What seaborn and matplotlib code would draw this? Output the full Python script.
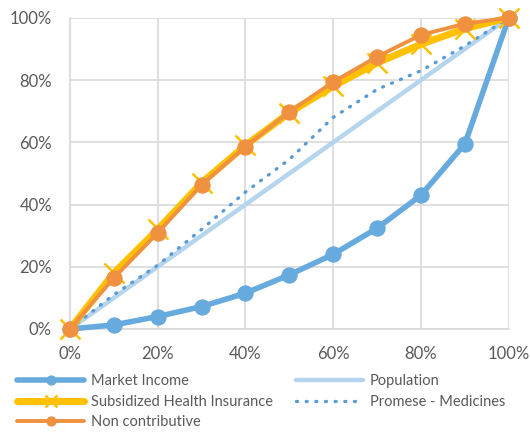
import numpy as np
import pandas as pd
import matplotlib
matplotlib.use("Agg")
import matplotlib.pyplot as plt
import seaborn as sns
from matplotlib.ticker import PercentFormatter

# cumulative share of population (x)
pop_share = [0, 10, 20, 30, 40, 50, 60, 70, 80, 90, 100]

market_income = [0, 1.3, 4.0, 7.2, 11.5, 17.4, 24.0, 32.4, 43.0, 59.5, 100]
population = [0, 10, 20, 30, 40, 50, 60, 70, 80, 90, 100]
subsidized = [0, 18.0, 32.0, 47.0, 59.0, 69.5, 78.0, 85.5, 91.5, 96.5, 100]
promese = [0, 11.0, 20.5, 32.0, 44.0, 54.5, 68.0, 77.0, 83.0, 91.0, 100]
non_contrib = [0, 16.4, 30.9, 46.3, 58.6, 69.8, 79.4, 87.5, 94.5, 98.1, 100]

sns.set_style("white")
plt.rcParams['font.family'] = ['Lato', 'DejaVu Sans']

fig = plt.figure(figsize=(5.3, 4.34), dpi=100)
ax = fig.add_axes([0.132, 0.242, 0.828, 0.717])

c_mi = "#67aade"
c_pop = "#b4d5ed"
c_sub = "#ffc000"
c_nc = "#f0913f"

sns.lineplot(x=pop_share, y=population, ax=ax, color=c_pop, lw=3.2,
             label="Population", zorder=2)
sns.lineplot(x=pop_share, y=promese, ax=ax, color="#5b9bd5", lw=2.4,
             linestyle=(0, (0.3, 2.6)), dash_capstyle="round",
             label="Promese - Medicines", zorder=3)
sns.lineplot(x=pop_share, y=market_income, ax=ax, color=c_mi, lw=4,
             marker="o", markersize=11, markeredgecolor=c_mi,
             label="Market Income", zorder=4)
sns.lineplot(x=pop_share, y=subsidized, ax=ax, color=c_sub, lw=5,
             marker="x", markersize=15, markeredgewidth=1.8,
             markeredgecolor=c_sub, label="Subsidized Health Insurance", zorder=5)
sns.lineplot(x=pop_share, y=non_contrib, ax=ax, color=c_nc, lw=2.8,
             marker="o", markersize=11, markeredgecolor=c_nc,
             label="Non contributive", zorder=6)

ax.set_xlim(0, 100)
ax.set_ylim(0, 100)
ax.set_xticks(np.arange(0, 101, 20))
ax.set_yticks(np.arange(0, 101, 20))
ax.xaxis.set_major_formatter(PercentFormatter(decimals=0))
ax.yaxis.set_major_formatter(PercentFormatter(decimals=0))
ax.grid(True, color="#d9d9d9", lw=1.2)
ax.set_axisbelow(True)
for s in ["top", "right"]:
    ax.spines[s].set_visible(False)
for s in ["left", "bottom"]:
    ax.spines[s].set_color("#d9d9d9")
    ax.spines[s].set_linewidth(1.2)
ax.tick_params(axis="both", colors="#595959", labelsize=12, length=0)
ax.tick_params(axis="x", pad=12)
ax.tick_params(axis="y", pad=13)
for lab in ax.get_xticklabels() + ax.get_yticklabels():
    lab.set_color("#595959")
ax.set_xlabel("")
ax.set_ylabel("")
for line in ax.lines:
    line.set_clip_on(False)

handles, labels = ax.get_legend_handles_labels()
ax.get_legend().remove()
order = ["Market Income", "Subsidized Health Insurance", "Non contributive",
         "Population", "Promese - Medicines"]
hmap = dict(zip(labels, handles))
leg = fig.legend([hmap[k] for k in order], order, loc="upper left",
                 bbox_to_anchor=(0.008, 0.168), ncol=2, frameon=False,
                 fontsize=10.5, handlelength=4.6, columnspacing=1.6,
                 labelspacing=0.45, handletextpad=0.45, markerscale=0.6)
for t in leg.get_texts():
    t.set_color("#595959")

fig.savefig("out.png", dpi=100)
